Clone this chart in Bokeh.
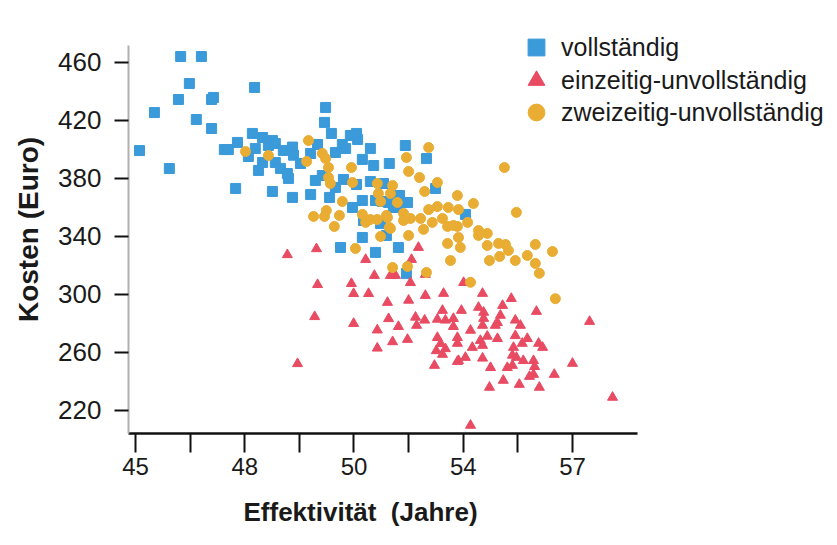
from bokeh.plotting import figure
from bokeh.models import FixedTicker, Legend, LegendItem, Range1d, Title
from bokeh.embed import file_html
from bokeh.resources import INLINE

# ---------------- data ----------------
series_names = ["vollständig", "einzeitig-unvollständig", "zweizeitig-unvollständig"]

blue_x = [45.11, 45.52, 45.93, 46.18, 46.24, 46.81, 46.48, 46.67, 47.09, 47.14, 47.09, 48.27,
          47.44, 47.55, 47.80, 47.75, 48.21, 48.29, 48.10, 48.49, 48.76, 48.65, 48.84, 49.06,
          49.31, 49.34, 48.49, 48.38, 48.84, 48.98, 49.17, 49.20, 48.76, 49.31, 49.53, 49.81,
          50.00, 50.22, 50.19, 50.38, 50.49, 50.68, 50.77, 50.90, 49.94, 50.13, 50.49, 50.71,
          49.81, 50.33, 50.96, 51.07, 51.10, 51.45, 51.23, 51.54, 51.97, 51.07, 51.45, 51.81,
          51.23, 51.78, 52.19, 51.59, 51.95, 52.25, 52.47, 52.08, 52.41, 52.99, 53.24, 54.06,
          51.26, 51.73, 51.89, 51.23, 52.22, 50.63, 51.59, 52.44]
blue_y = [399.1, 425.3, 386.7, 434.3, 463.9, 463.9, 445.3, 420.5, 414.3, 435.7, 434.3, 442.6,
          399.8, 399.8, 404.7, 373.0, 410.9, 400.5, 395.0, 408.1, 406.0, 402.6, 404.0, 399.2,
          401.5, 395.9, 390.9, 385.4, 390.9, 386.8, 383.3, 379.9, 370.9, 366.8, 390.2, 397.1,
          403.3, 428.8, 418.5, 410.9, 397.8, 403.3, 400.5, 409.5, 378.5, 381.9, 373.7, 379.2,
          368.8, 366.8, 359.9, 410.9, 406.7, 400.5, 393.0, 388.8, 390.2, 375.7, 377.8, 376.4,
          364.7, 364.0, 359.9, 364.7, 363.3, 368.1, 363.3, 359.9, 402.6, 393.6, 373.0, 355.1,
          350.9, 348.9, 340.6, 339.2, 332.3, 332.3, 328.9, 314.3]

red_x = [49.17, 49.97, 49.45, 49.92, 50.00, 50.93, 50.99, 51.32, 51.40, 50.99, 51.56, 52.00,
         52.14, 51.92, 51.95, 52.22, 51.64, 51.64, 52.06, 52.47, 52.50, 52.55, 52.58, 52.77,
         52.96, 52.96, 52.69, 52.72, 52.94, 53.29, 53.51, 53.46, 53.43, 53.73, 53.73, 53.29,
         53.38, 53.26, 53.51, 53.43, 53.84, 53.87, 53.21, 54.01, 53.95, 54.42, 54.56, 54.53,
         55.08, 55.02, 55.32, 56.01, 57.47, 54.56, 54.94, 54.88, 55.43, 55.57, 54.53, 54.20,
         54.66, 54.94, 55.43, 55.76, 54.47, 53.84, 54.25, 54.53, 55.62, 56.07, 56.18, 55.38,
         55.35, 55.46, 55.65, 55.93, 54.06, 53.84, 54.53, 55.21, 55.35, 54.75, 55.96, 57.00,
         56.50, 55.93, 55.82, 55.10, 55.54, 54.72, 56.09, 58.10, 54.20]
red_y = [327.3, 331.4, 252.2, 284.6, 306.7, 307.4, 300.5, 324.0, 300.5, 279.9, 313.0, 313.0,
         313.0, 294.4, 283.2, 277.8, 275.4, 262.9, 267.3, 268.9, 295.9, 308.1, 324.0, 332.3,
         313.7, 299.2, 284.2, 278.6, 282.2, 282.8, 282.2, 300.6, 288.9, 283.3, 277.8, 270.2,
         266.0, 261.1, 262.5, 258.6, 270.2, 254.3, 251.0, 308.1, 288.9, 291.0, 287.6, 300.6,
         292.3, 285.5, 297.1, 288.2, 281.3, 283.4, 280.5, 278.6, 282.2, 278.6, 278.6, 275.2,
         271.1, 269.5, 271.5, 269.5, 268.2, 266.2, 263.4, 264.8, 266.2, 266.2, 263.4, 263.4,
         258.0, 256.5, 254.3, 254.3, 256.5, 253.7, 256.0, 249.5, 251.0, 249.5, 250.2, 252.4,
         244.8, 244.8, 243.4, 240.7, 237.9, 235.9, 235.9, 229.0, 209.7]

orange_x = [48.02, 48.65, 49.70, 49.75, 50.13, 50.22, 50.30, 50.30, 50.35, 50.93, 50.96, 50.68,
            49.89, 50.24, 50.19, 50.60, 50.46, 51.23, 51.32, 51.45, 51.64, 51.89, 51.97, 51.73,
            51.04, 51.64, 52.06, 51.67, 52.00, 51.73, 52.19, 53.05, 52.44, 52.50, 52.80, 53.29,
            55.13, 52.94, 53.84, 54.28, 53.05, 53.29, 53.59, 53.87, 52.36, 51.92, 52.36, 52.55,
            52.83, 53.15, 53.43, 53.57, 53.84, 54.12, 52.91, 54.42, 54.66, 52.00, 52.50, 53.87,
            53.92, 54.66, 54.97, 55.16, 53.57, 55.00, 53.65, 52.06, 52.47, 52.99, 55.46, 53.73,
            54.42, 55.24, 54.72, 55.43, 55.76, 55.98, 56.45, 55.98, 56.09, 54.20, 56.53]
orange_y = [398.4, 395.7, 391.6, 406.0, 397.1, 393.6, 387.4, 380.5, 376.4, 387.4, 377.1, 364.0,
            353.7, 357.8, 353.7, 354.4, 346.8, 355.1, 349.6, 351.6, 351.6, 354.4, 346.1, 339.9,
            331.6, 376.4, 375.0, 369.5, 369.5, 364.0, 363.3, 401.2, 394.3, 384.7, 380.5, 377.1,
            387.4, 370.9, 368.1, 362.6, 358.4, 360.5, 359.9, 358.4, 355.8, 353.0, 350.9, 352.3,
            352.3, 349.6, 352.3, 346.8, 346.8, 349.6, 344.8, 344.0, 342.0, 345.4, 340.6, 339.2,
            332.3, 333.7, 335.1, 334.4, 335.1, 326.1, 323.3, 318.5, 319.2, 315.1, 356.5, 347.5,
            340.6, 330.2, 323.3, 323.3, 326.8, 334.4, 329.5, 321.3, 314.5, 308.3, 297.0]

x_tick_values = [45, 46.5, 48, 49.5, 51, 52.5, 54, 55.5, 57]
x_tick_labels = ["45", "", "48", "", "50", "", "54", "", "57"]
y_tick_values = [220, 260, 300, 340, 380, 420, 460]

x_axis_extent = (44.81, 58.78)
y_axis_extent = (204.1, 471.5)

x_title = "Effektivität\u00a0 (Jahre)"
y_title = "Kosten (Euro)"

colors = ["#3b9ad9", "#e84b62", "#e9ad33"]
FONT = "Liberation Sans"

# ---------------- figure ----------------
# frame spans the area right of / above the axes; axes are bounded
p = figure(width=836, height=544, output_backend="svg", toolbar_location=None,
           x_range=Range1d(44.808, 64.25), y_range=Range1d(204.1, 485.3),
           min_border_left=128, min_border_right=0, min_border_top=25, min_border_bottom=111)
p.outline_line_color = None
p.xgrid.visible = False
p.ygrid.visible = False
p.background_fill_color = "white"
p.border_fill_color = "white"

r_blue = p.scatter(blue_x, blue_y, marker="square", size=10, color=colors[0])
r_red = p.scatter(red_x, red_y, marker="triangle", size=10, color=colors[1])
r_orange = p.scatter(orange_x, orange_y, marker="circle", size=10, color=colors[2])

# x axis
xa = p.xaxis[0]
xa.bounds = x_axis_extent
xa.ticker = FixedTicker(ticks=x_tick_values)
xa.major_label_overrides = {v: l for v, l in zip(x_tick_values, x_tick_labels)}
xa.axis_line_color = "#111"
xa.axis_line_width = 2.5
xa.major_tick_line_color = "#111"
xa.major_tick_line_width = 2
xa.major_tick_in = 0
xa.major_tick_out = 19
xa.minor_tick_line_color = None
xa.major_label_text_font = FONT
xa.major_label_text_font_size = "24px"
xa.major_label_text_color = "#1a1a1a"
xa.major_label_standoff = 5

p.add_layout(Title(text=x_title, align="left", offset=115, text_font=FONT,
                   text_font_style="bold", text_font_size="26px", text_color="#1a1a1a",
                   standoff=34), "below")

# y axis
ya = p.yaxis[0]
ya.bounds = y_axis_extent
ya.ticker = FixedTicker(ticks=y_tick_values)
ya.axis_line_color = "#b0b0b0"
ya.axis_line_width = 2
ya.major_tick_line_color = "#111"
ya.major_tick_line_width = 2
ya.major_tick_in = 0
ya.major_tick_out = 14
ya.minor_tick_line_color = None
ya.major_label_text_font = FONT
ya.major_label_text_font_size = "26px"
ya.major_label_text_color = "#1a1a1a"
ya.major_label_standoff = 13
ya.axis_label = y_title
ya.axis_label_text_font = FONT
ya.axis_label_text_font_style = "bold"
ya.axis_label_text_font_size = "28px"
ya.axis_label_text_color = "#1a1a1a"
ya.axis_label_standoff = 11

# one legend per entry so the rows can sit closer than the marker box
legend_offsets = [(387, 365), (387, 332), (387, 300)]
for name, rend, loc in zip(series_names, [r_blue, r_red, r_orange], legend_offsets):
    lg = Legend(items=[LegendItem(label=name, renderers=[rend])], location=loc)
    lg.glyph_width = 42
    lg.glyph_height = 42
    lg.label_height = 42
    lg.padding = 0
    lg.margin = 0
    lg.spacing = 0
    lg.label_standoff = 4
    lg.border_line_color = None
    lg.background_fill_alpha = 0
    lg.label_text_font = FONT
    lg.label_text_font_size = "25px"
    lg.label_text_color = "#1a1a1a"
    p.add_layout(lg, "center")

open("out.html", "w").write(file_html(p, INLINE))
